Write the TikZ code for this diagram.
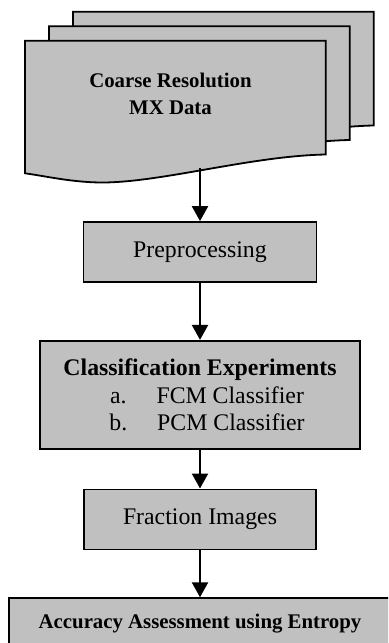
\documentclass[tikz,border=0pt]{standalone}
\usepackage{fontspec}
\setmainfont{Liberation Serif}
\usetikzlibrary{positioning,arrows.meta}
\definecolor{sheetgray}{RGB}{192,192,192}
\tikzstyle{flow chart}=[
    x=0.5pt,y=-0.5pt,
    >={Triangle[width=8pt,length=7.5pt]},
    every node/.style={
        align=center,
        font=\fontsize{11.9pt}{13.65pt}\selectfont,
    },
    stage/.style={draw, fill=sheetgray, line width=0.9pt, inner sep=0pt},
    sheet/.style={draw, fill=sheetgray, line width=0.9pt},
    bold label/.style={font=\fontsize{10.4pt}{13.5pt}\selectfont\bfseries},
    flow/.style={->, line width=1.15pt},
]
\newcommand{\itemline}[2]{\hspace*{7pt}#1\hspace{15pt}#2}

\begin{document}
\begin{tikzpicture}[flow chart]
        \clip (0,0) rectangle (388,643);
        % stacked data sheets, back to front
        \foreach \i in {2,1,0}
            \draw[sheet, shift={(24*\i,-14.5*\i)}] (25,40.7) -- (325.7,40.7) -- (325.7,154.5)
                .. controls (250,156) and (160,183) .. (100,182.5)
                .. controls (70,182) and (45,176) .. (25,173.3) -- cycle;
        \node[bold label] (data) at (170.5,94) {Coarse Resolution\\MX Data};
        \coordinate (datafoot) at (200,168.3);

        \node[stage, minimum width=116.5pt, minimum height=30pt] (prep) at (200,252) {Preprocessing};
        \node[stage, minimum width=160pt, minimum height=54pt, below=28.5pt of prep] (classify)
            {\textbf{Classification Experiments}\\\itemline{a.}{FCM Classifier}\\\itemline{b.}{PCM Classifier}};
        \node[stage, minimum width=115.7pt, minimum height=30pt, below=19.4pt of classify] (fraction) {Fraction Images};
        \node[stage, bold label, minimum width=191pt, text height=9pt, text depth=12pt, inner ysep=6pt,
            below=23.5pt of fraction] (accuracy) {Accuracy Assessment using Entropy};

        \draw[flow] (datafoot) -- (prep);
        \draw[flow] (prep) -- (classify);
        \draw[flow] (classify) -- (fraction);
        \draw[flow] (fraction) -- (accuracy);
    \end{tikzpicture}
\end{document}
